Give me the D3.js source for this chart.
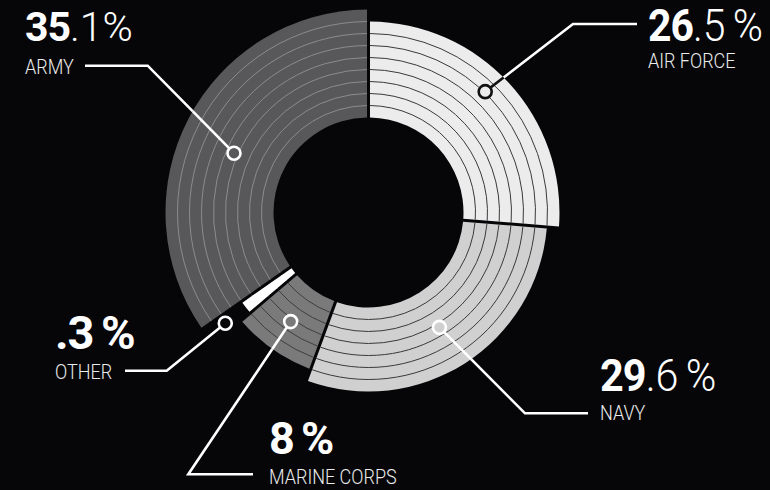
<!DOCTYPE html>
<html>
<head>
<meta charset="utf-8">
<script src="https://cdn.jsdelivr.net/npm/d3@7/dist/d3.min.js"></script>
<style>
  html, body { margin: 0; padding: 0; background: #060609; }
  svg { display: block; }
</style>
</head>
<body>
<svg id="chart" width="770" height="490"></svg>
<script>
// ---------- DATA ----------
const categories = ["AIR FORCE", "NAVY", "MARINE CORPS", "OTHER", "ARMY"];
const values     = [26.5, 29.6, 8, 0.3, 35.1];          // percent share
const bandCounts = [8, 7, 6, 5, 9];                      // rings drawn in each slice
const boldText   = ["26", "29", "8 %", ".3 %", "35"];    // bold part of value label
const lightText  = [".5 %", ".6 %", "", "", ".1%"];      // light part of value label

// ---------- STYLE / LAYOUT ----------
const W = 770, H = 490;
const cx = 368.5, cy = 212.5;
const innerR = 95, bandStep = 12;
const fills      = ["#ececec", "#d0d0d0", "#7a7a7a", "#ffffff", "#58585a"];
const ringColors = ["#3a3a3a", "#3a3a3a", "#3e3e3e", "#ffffff", "#8c8c8c"];
const dotStroke  = ["#111111", "#ffffff", "#ffffff", "#ffffff", "#ffffff"];
const dotFill    = ["#ececec", "#d0d0d0", "#7a7a7a", "#060609", "#58585a"];
const minShare = 1.2;   // display floor so tiny slices stay visible
const padRadius = 150, padAngle = 0.02;

// leader layout: dot (polar: deg, radius), elbow point, line end, label anchor
const leaders = [
  { dot: [44, 168],    elbow: [573, 24],    end: [637, 24],    label: [648, 41],  sub: [648, 68], size: 44, sx: 0.93 },
  { dot: [148.3, 135], elbow: [525, 413.3], end: [588, 413.3], label: [600, 390.5], sub: [600, 420], size: 45, sx: 0.92 },
  { dot: [215.5, 134], elbow: [188.3, 474.3], end: [253, 474.3], label: [269, 454], sub: [269, 483.5], size: 45, sx: 1 },
  { dot: [232.3, 181], elbow: [166.7, 370.7], end: [125, 370.7], label: [55, 349], sub: [55, 379], size: 46, sx: 1.02 },
  { dot: [293.8, 147], elbow: [147.7, 65.7],  end: [85, 65.7],  label: [25, 41],   sub: [25, 74],   size: 41, sx: 1 }
];

const data = categories.map((c, i) => ({
  category: c, value: values[i], bands: bandCounts[i],
  bold: boldText[i], light: lightText[i], i
}));

const svg = d3.select("#chart");
svg.append("rect").attr("width", W).attr("height", H).attr("fill", "#060609");

const rScale = d3.scaleLinear().domain([0, 1]).range([innerR, innerR + bandStep]);

const pie = d3.pie().sort(null).value(d => Math.max(d.value, minShare)).padAngle(padAngle);
const arcs = pie(data);

const arc = d3.arc()
  .innerRadius(innerR)
  .outerRadius(d => rScale(d.data.bands))
  .padRadius(padRadius);

const g = svg.append("g").attr("transform", `translate(${cx},${cy})`);

g.selectAll("path.slice").data(arcs).join("path")
  .attr("class", "slice")
  .attr("d", arc)
  .attr("fill", d => fills[d.data.i]);

// ring lines inside each slice
arcs.forEach(a => {
  const ap = a.padAngle / 2;
  for (let k = 1; k < a.data.bands; k++) {
    const r = rScale(k);
    const inset = Math.asin(padRadius * Math.sin(ap) / r);
    const a0 = a.startAngle + inset, a1 = a.endAngle - inset;
    if (a1 <= a0) continue;
    const p = d3.path();
    p.arc(0, 0, r, a0 - Math.PI / 2, a1 - Math.PI / 2);
    g.append("path").attr("d", p.toString())
      .attr("fill", "none")
      .attr("stroke", ringColors[a.data.i])
      .attr("stroke-width", 1);
  }
});

// ---------- LEADERS ----------
const lg = svg.append("g");
function polar(deg, r) {
  const t = deg * Math.PI / 180;
  return [cx + r * Math.sin(t), cy - r * Math.cos(t)];
}
data.forEach(d => {
  const L = leaders[d.i];
  const p0 = polar(L.dot[0], L.dot[1]);
  const p1 = L.elbow, p2 = L.end;
  const outerR = rScale(d.bands);
  // where first segment leaves the slice
  const dx = p1[0] - p0[0], dy = p1[1] - p0[1];
  const fx = p0[0] - cx, fy = p0[1] - cy;
  const A = dx * dx + dy * dy, B = 2 * (fx * dx + fy * dy), C = fx * fx + fy * fy - outerR * outerR;
  const disc = B * B - 4 * A * C;
  let t = 0;
  if (disc >= 0 && C < 0) t = (-B + Math.sqrt(disc)) / (2 * A);
  const pe = [p0[0] + t * dx, p0[1] + t * dy];
  const inColor = dotStroke[d.i];
  lg.append("path")
    .attr("d", d3.line()([pe, p1, p2]))
    .attr("fill", "none").attr("stroke", "#ffffff").attr("stroke-width", 2.6);
  if (t > 0) {
    lg.append("path")
      .attr("d", d3.line()([p0, pe]))
      .attr("fill", "none").attr("stroke", inColor).attr("stroke-width", 2.6);
  }
  lg.append("circle")
    .attr("cx", p0[0]).attr("cy", p0[1]).attr("r", 6.5)
    .attr("fill", dotFill[d.i]).attr("stroke", inColor).attr("stroke-width", 2.6);

  // value label
  const txt = svg.append("text")
    .attr("transform", `translate(${L.label[0]},${L.label[1]}) scale(${L.sx},1)`)
    .attr("fill", "#ffffff")
    .attr("font-family", "Roboto, 'Noto Sans', sans-serif")
    .attr("font-size", L.size)
    .attr("word-spacing", -3);
  txt.append("tspan").attr("font-weight", 700).attr("letter-spacing", -1).text(d.bold);
  if (d.light) txt.append("tspan").attr("font-weight", 300).text(d.light);

  // category label (condensed)
  svg.append("text")
    .attr("transform", `translate(${L.sub[0]},${L.sub[1]}) scale(0.9,1)`)
    .attr("fill", "#ececec")
    .attr("font-family", "Roboto, 'Noto Sans', sans-serif")
    .attr("font-weight", 300)
    .attr("font-size", 20)
    .text(d.category);
});
</script>
</body>
</html>
